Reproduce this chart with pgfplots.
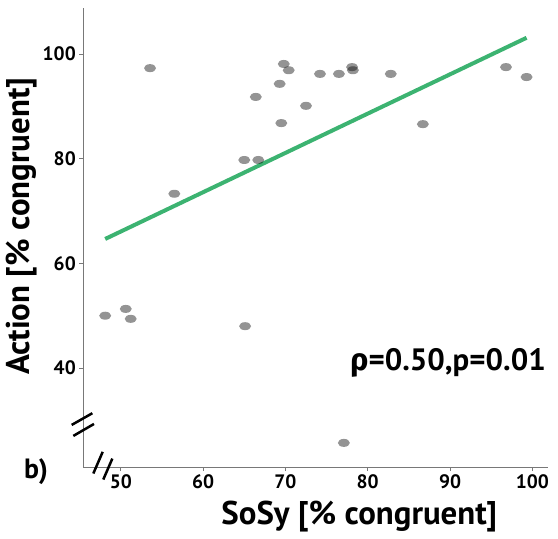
\documentclass[border=0pt]{standalone}
\usepackage{fontspec}
\setmainfont{PT Sans}
\newfontfamily\greekf{Fira Sans}
\usepackage{pgfplots}
\pgfplotsset{compat=1.18}
\definecolor{regr}{RGB}{60,179,113}
\definecolor{axgray}{RGB}{120,120,120}
\pgfplotstableread{
x y
53.55 97.3
48.1 50.0
50.6 51.3
51.2 49.4
56.5 73.3
65.1 48.0
65.0 79.75
66.7 79.75
66.4 91.8
69.8 98.1
70.4 96.9
69.3 94.3
69.5 86.8
72.5 90.1
74.2 96.2
76.5 96.2
78.1 97.5
78.2 96.9
82.8 96.2
86.7 86.6
96.8 97.5
99.3 95.6
77.1 25.7
}\pts
\begin{document}
\begin{tikzpicture}
\begin{axis}[
 scale only axis, width=464.7bp, height=459.3bp,
 xmin=45.44, xmax=101.9, ymin=21.05, ymax=108.8,
 axis lines=left, axis line style={-, axgray, line width=1.3bp},
 xtick={50,60,...,100}, ytick={40,60,80,100},
 tick align=outside, major tick length=4bp, tick style={axgray, line width=1bp},
 /pgf/number format/assume math mode=true,
 ticklabel style={font=\bfseries\fontsize{19.5}{19.5}\selectfont},
 xlabel={SoSy [\% congruent]}, ylabel={Action [\% congruent]},
 label style={font=\bfseries\fontsize{33}{33}\selectfont},
 xlabel style={at={(axis description cs:0.594,-0.108)}, anchor=center},
 ylabel style={at={(axis description cs:-0.1326,0.524)}, anchor=center},
 clip=false,
]
\path (axis cs:35.32,7.35) rectangle (axis cs:103.12,110.32);
\addplot[regr, line width=4bp] coordinates {(48.1,64.66) (99.3,103.1)};
\addplot[only marks, mark=*, mark size=4bp, draw opacity=0, mark options={xscale=1.5, draw opacity=0, fill=black, fill opacity=0.42}] table {\pts};
\draw[black, line width=2.5bp] (axis cs:44.03,29.13) -- (axis cs:46.54,31.37);
\draw[black, line width=2.5bp] (axis cs:44.23,27.03) -- (axis cs:46.74,29.32);
\draw[black, line width=2.5bp] (axis cs:46.66,19.85) -- (axis cs:47.8,23.99);
\draw[black, line width=2.5bp] (axis cs:47.87,18.7) -- (axis cs:48.97,22.7);
\node[anchor=mid east, font=\bfseries\fontsize{31}{31}\selectfont, inner sep=0pt] at (axis cs:101.66,40.0) {{\greekf ρ}=0.50,p=0.01};
\node[font=\bfseries\fontsize{28}{28}\selectfont, inner sep=0pt] at (axis cs:39.7,20.3) {b)};
\end{axis}
\end{tikzpicture}
\end{document}
